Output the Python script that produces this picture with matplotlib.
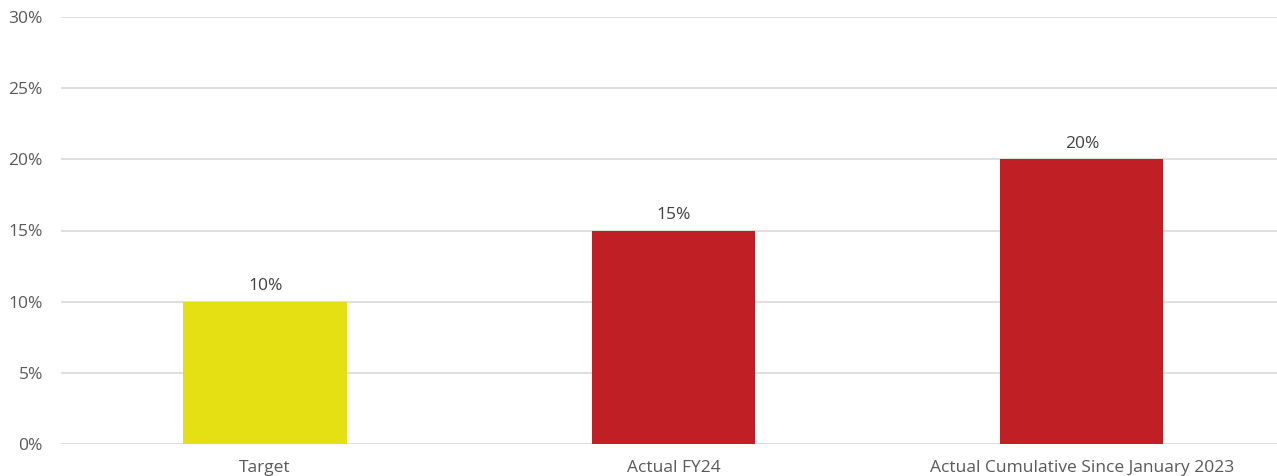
import matplotlib.pyplot as plt
import numpy as np

categories = ['Target', 'Actual FY24', 'Actual Cumulative Since January 2023']
values = [10, 15, 20]
bar_colors = ['#E5E013', '#BF1F25', '#BF1F25']
ytick_vals = [0, 5, 10, 15, 20, 25, 30]

plt.rcParams['font.family'] = ['Open Sans', 'DejaVu Sans']

fig = plt.figure(figsize=(12.77, 4.76), dpi=100)
ax = fig.add_axes([61/1277, 1 - 444/476, 1 - 61/1277, (444 - 17)/476])

x = np.arange(len(categories))
bars = ax.bar(x, values, width=0.40, color=bar_colors, zorder=3)

for b, v in zip(bars, values):
    ax.text(b.get_x() + b.get_width()/2, v + 0.55, '%d%%' % v,
            ha='center', va='bottom', fontsize=12.5, color='#404040')

ax.set_ylim(0, 30)
ax.set_xlim(-0.5, 2.478)
ax.set_yticks(ytick_vals)
ax.set_yticklabels(['%d%%' % t for t in ytick_vals])
ax.set_xticks(x)
ax.set_xticklabels(categories)
ax.yaxis.grid(True, color='#D9D9D9', linewidth=1.2, zorder=0)
ax.tick_params(axis='y', length=0, pad=13, labelsize=12.5, labelcolor='#595959')
ax.tick_params(axis='x', length=0, pad=11.5, labelsize=12.5, labelcolor='#595959')
for s in ax.spines.values():
    s.set_visible(False)

fig.savefig('out.png', dpi=100)
